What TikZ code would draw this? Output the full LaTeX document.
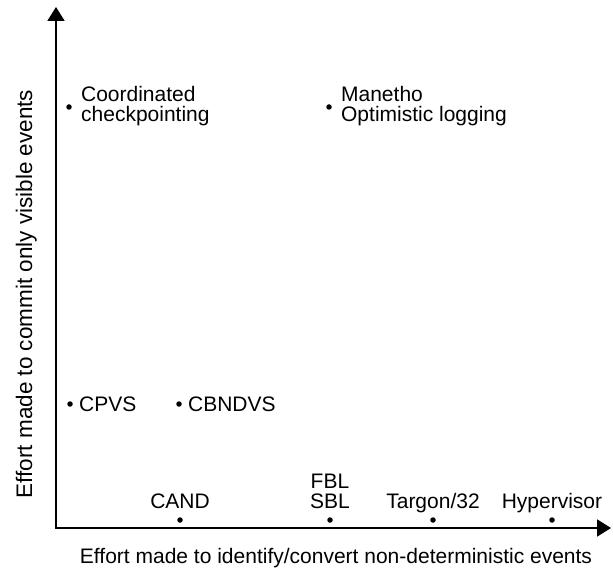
\documentclass[tikz,border=0pt]{standalone}
\usepackage{fontspec}
\setmainfont{Liberation Sans}
\usetikzlibrary{arrows.meta, positioning}

\begin{document}
\begin{tikzpicture}[%
  x=1pt, y=-1pt,%
  dot/.style={circle, fill=black, inner sep=0pt, minimum size=5.5pt},%
  lbl/.style={inner sep=0pt, align=left, font=\fontsize{21}{20.5}\selectfont},%
  tick/.style={lbl, align=center, text depth=0pt},%
  axis/.style={line width=1.9pt, -{Triangle[width=17pt, length=14pt]}}%
]
  \useasboundingbox (0,0) rectangle (613,569);
  % axes
  \coordinate (origin) at (56,528);
  \coordinate (ytop) at (56,7);
  \coordinate (xend) at (611,528);
  \draw[axis] (origin) -- (ytop);
  \draw[axis] ([xshift=-0.95pt]origin) -- (xend);
  \node[lbl, anchor=base] (xlabel) at (336,563) {Effort made to identify/convert non-deterministic events};
  \node[lbl, rotate=90, anchor=base, font=\fontsize{22.5}{22}\selectfont] (ylabel) at (32,294) {Effort made to commit only visible events};
  % upper points
  \node[dot] (coord) at (69,107) {};
  \node[lbl, right=9pt of coord, yshift=1pt] (coordlbl) {Coordinated\\checkpointing};
  \node[dot] (manetho) at (329,107) {};
  \node[lbl, right=9pt of manetho, yshift=1pt] (manetholbl) {Manetho\\Optimistic logging};
  % middle points
  \node[dot] (cpvs) at (70,404) {};
  \node[lbl, right=6pt of cpvs] (cpvslbl) {CPVS};
  \node[dot] (cbndvs) at (179,404) {};
  \node[lbl, right=6pt of cbndvs] (cbndvslbl) {CBNDVS};
  % points on the x axis
  \node[dot] (cand) at (180,520) {};
  \node[tick, above=8pt of cand] (candlbl) {CAND};
  \node[dot] (fbl) at (330,520) {};
  \node[tick, above=8pt of fbl] (fbllbl) {FBL\\SBL};
  \node[dot] (targon) at (433,520) {};
  \node[tick, above=8pt of targon] (targonlbl) {Targon/32};
  \node[dot] (hyper) at (552,520) {};
  \node[tick, above=8pt of hyper] (hyperlbl) {Hypervisor};
\end{tikzpicture}
\end{document}
